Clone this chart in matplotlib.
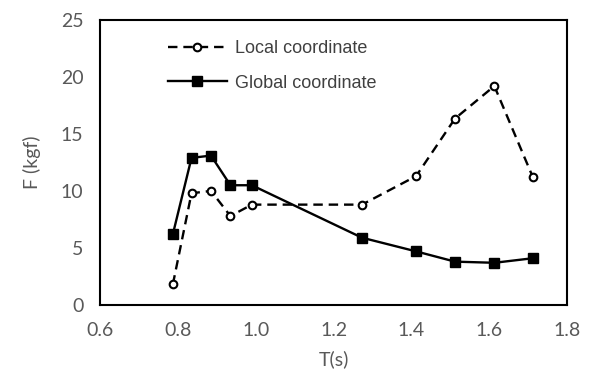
import matplotlib
matplotlib.use("Agg")
import matplotlib.pyplot as plt

# data
t_local = [0.787, 0.835, 0.885, 0.935, 0.99, 1.273, 1.412, 1.512, 1.613, 1.712]
f_local = [1.8, 9.8, 10.0, 7.8, 8.8, 8.8, 11.3, 16.35, 19.2, 11.2]
t_global = [0.787, 0.835, 0.885, 0.935, 0.99, 1.273, 1.412, 1.512, 1.613, 1.712]
f_global = [6.2, 12.9, 13.1, 10.5, 10.5, 5.9, 4.7, 3.8, 3.7, 4.1]
xticks = [0.6, 0.8, 1.0, 1.2, 1.4, 1.6, 1.8]
yticks = [0, 5, 10, 15, 20, 25]

grey = "#595959"

fig = plt.figure(figsize=(5.92, 3.9), dpi=100)
ax = fig.add_axes([0.169, 0.218, 0.789, 0.731])

ax.plot(t_local, f_local, color="black", linestyle=(0, (4, 2.5)), linewidth=1.7,
        marker="o", markersize=5.5, markerfacecolor="white", markeredgewidth=1.5,
        label="Local coordinate")
ax.plot(t_global, f_global, color="black", linestyle="-", linewidth=1.7,
        marker="s", markersize=7, label="Global coordinate")

ax.set_xlim(0.6, 1.8)
ax.set_ylim(0, 25)
ax.set_xticks(xticks)
ax.set_xticklabels([f"{v:.1f}" for v in xticks])
ax.set_yticks(yticks)
ax.tick_params(length=0, labelsize=14, labelcolor=grey)
ax.tick_params(axis="x", pad=12)
ax.tick_params(axis="y", pad=12)
for lab in ax.get_xticklabels() + ax.get_yticklabels():
    lab.set_family("Lato")
for s in ax.spines.values():
    s.set_linewidth(1.5)
    s.set_color("black")

ax.set_xlabel("T(s)", fontsize=14, color=grey, family="Lato", labelpad=8)
ax.set_ylabel("F (kgf)", fontsize=14, color=grey, family="Lato", labelpad=14)

leg = ax.legend(loc="upper left", bbox_to_anchor=(0.11, 0.985), frameon=False,
                prop={"family": "Liberation Sans", "size": 13}, handlelength=3.3,
                handletextpad=0.45, labelspacing=0.95)
for txt in leg.get_texts():
    txt.set_color("#404040")

fig.savefig("out.png", dpi=100)
